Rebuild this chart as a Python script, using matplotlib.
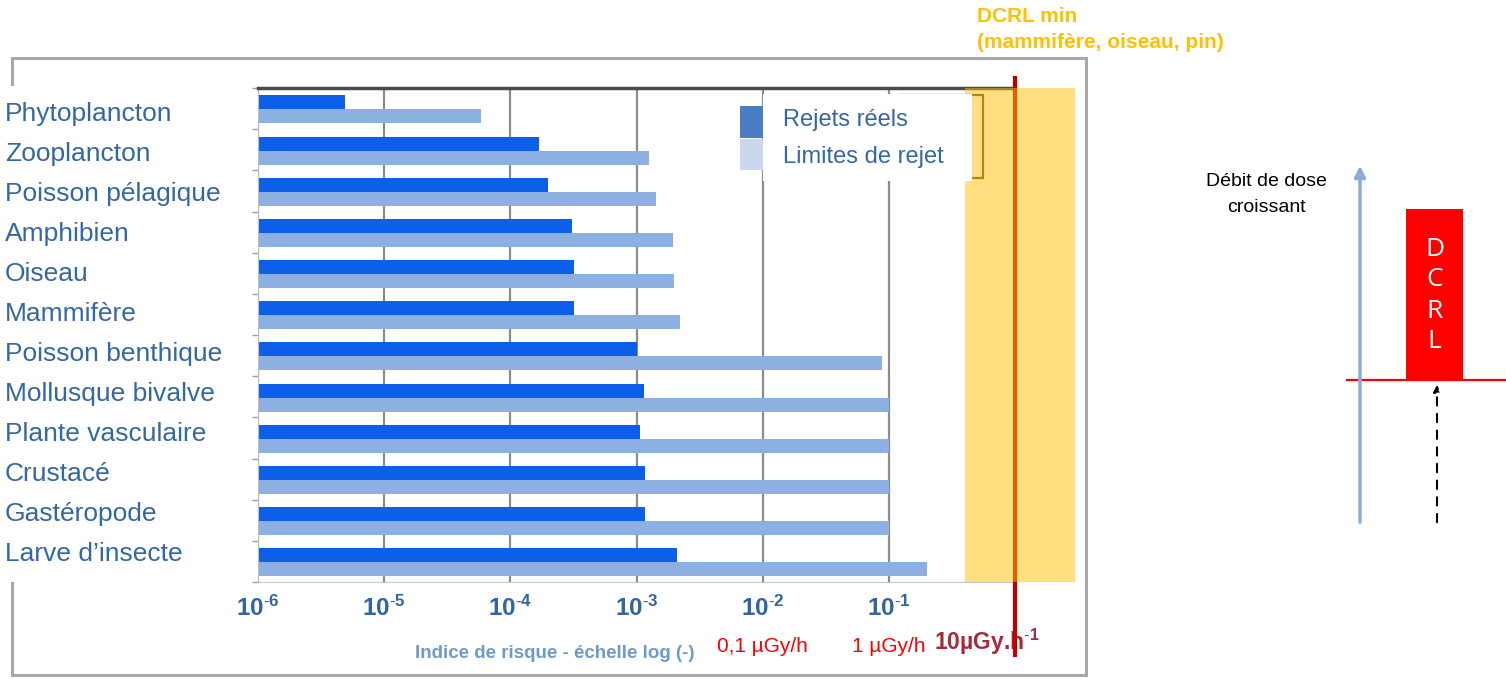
import numpy as np
import matplotlib
matplotlib.use('Agg')
import matplotlib.pyplot as plt
from matplotlib.patches import Rectangle
from matplotlib.ticker import NullLocator
from matplotlib.transforms import blended_transform_factory

plt.rcParams['font.family'] = ['Liberation Sans', 'DejaVu Sans']
plt.rcParams['mathtext.fontset'] = 'custom'
plt.rcParams['mathtext.rm'] = 'Liberation Sans'
plt.rcParams['mathtext.bf'] = 'Liberation Sans:bold'

# indices de risque par espèce (échelle log)
especes = ['Phytoplancton', 'Zooplancton', 'Poisson pélagique', 'Amphibien', 'Oiseau',
           'Mammifère', 'Poisson benthique', 'Mollusque bivalve', 'Plante vasculaire',
           'Crustacé', 'Gastéropode', 'Larve d’insecte']
rejets_reels = [4.9e-6, 1.7e-4, 2.0e-4, 3.1e-4, 3.2e-4, 3.2e-4,
                1.0e-3, 1.15e-3, 1.07e-3, 1.16e-3, 1.16e-3, 2.1e-3]
limites_rejet = [5.9e-5, 1.26e-3, 1.44e-3, 1.96e-3, 2.0e-3, 2.2e-3,
                 8.8e-2, 1.0e-1, 1.0e-1, 1.0e-1, 1.0e-1, 2.0e-1]
decades = [1e-6, 1e-5, 1e-4, 1e-3, 1e-2, 1e-1, 1e0]
decade_labels = [r'$\mathbf{10^{\text{-}6}}$', r'$\mathbf{10^{\text{-}5}}$',
                 r'$\mathbf{10^{\text{-}4}}$', r'$\mathbf{10^{\text{-}3}}$',
                 r'$\mathbf{10^{\text{-}2}}$', r'$\mathbf{10^{\text{-}1}}$', '']
debit_pos = [1e-2, 1e-1]
debit_labels = ['0,1 µGy/h', '1 µGy/h']
dcrl = 1.0            # 10 µGy/h
zone_dcrl = (0.4, 3.0)

W, H = 1506, 679
BLEU_TXT = '#3467A6'


def box(x0, y0, x1, y1):
    return [x0 / W, 1 - y1 / H, (x1 - x0) / W, (y1 - y0) / H]


def frect(x0, y0, x1, y1, **kw):
    return Rectangle((x0 / W, 1 - y1 / H), (x1 - x0) / W, (y1 - y0) / H,
                     transform=fig.transFigure, **kw)


fig = plt.figure(figsize=(W / 100, H / 100), dpi=100)

# cadre du graphique + caches blancs
fig.patches.append(frect(12, 58, 1086, 675, fill=False, ec='#A8A8A8', lw=2.2, zorder=-3))
fig.patches.append(frect(0, 86, 246, 582, fc='white', ec='none', zorder=-1))
fig.patches.append(frect(205, 584, 930, 633, fc='white', ec='none', zorder=-1))

ax = fig.add_axes(box(258, 88, 1015, 582))
ax.set_xscale('log')
ax.set_xlim(decades[0], decades[-1])
y = np.arange(len(especes))
x0 = decades[0]
ax.barh(y - 0.15, np.array(rejets_reels) - x0, left=x0, height=0.34,
        color='#0B5FE8', zorder=2)
ax.barh(y + 0.19, np.array(limites_rejet) - x0, left=x0, height=0.34,
        color='#8DB0E3', zorder=2)
ax.set_ylim(len(especes) - 0.5, -0.5)

ax.set_xticks(decades)
ax.set_xticklabels(decade_labels)
ax.xaxis.set_minor_locator(NullLocator())
ax.tick_params(axis='x', length=0, pad=10, labelsize=17.5, labelcolor='#2F66A3')
ax.set_yticks(np.arange(len(especes) + 1) - 0.5)
ax.set_yticklabels([])
ax.tick_params(axis='y', length=4, width=1, color='#A0A0A0')
ax.grid(axis='x', color='#8C8C8C', lw=1.6, zorder=1)
ax.set_axisbelow(True)
ax.spines['top'].set_color('#4A4A4A')
ax.spines['top'].set_linewidth(2.5)
ax.spines['left'].set_color('#BDBDBD')
ax.spines['bottom'].set_color('#C8C8C8')
ax.spines['right'].set_visible(False)

# ancien cadre de légende, sous la zone jaune
ax.add_patch(frect(900, 95, 983, 178, fill=False, ec='#5E5020', lw=1.6, clip_on=False, zorder=3))

# DCRL min et zone associée
ax.axvline(dcrl, ymin=-0.148, ymax=1.021, color='#C00000', lw=3, clip_on=False, zorder=4)
ax.axvspan(*zone_dcrl, color='#FFC000', alpha=0.5, lw=0, clip_on=False, zorder=5)

trans = blended_transform_factory(ax.transData, ax.transAxes)
for xp, lab in zip(debit_pos, debit_labels):
    ax.text(xp, -0.131, lab, transform=trans, ha='center', va='center',
            color='#FF0000', fontsize=15)
ax.text(0.228, -0.121, r'10µGy.h$^{\mathbf{\text{-}1}}$', transform=trans, ha='left', va='center',
        color='#A8283C', fontsize=16.5, fontweight='bold')

fig.text(555 / W, 1 - 654 / H, 'Indice de risque - échelle log (-)', ha='center', va='center',
         fontsize=13.5, fontweight='bold', color='#6D9BCB')

for i, nom in enumerate(especes):
    fig.text(5 / W, 1 - (114 + 40 * i) / H, nom, ha='left', va='center',
             fontsize=19, color=BLEU_TXT)

# légende
fig.patches.append(frect(740, 106, 763, 138, fc='#4A7EC4', ec='none', zorder=6))
fig.patches.append(frect(740, 139, 763, 170, fc='#CAD8EE', ec='none', zorder=6))
fig.patches.append(frect(763, 94, 972, 181, fc='white', ec='none', zorder=6))
fig.text(783 / W, 1 - 120 / H, 'Rejets réels', ha='left', va='center', fontsize=17,
         color=BLEU_TXT, zorder=7)
fig.text(783 / W, 1 - 157 / H, 'Limites de rejet', ha='left', va='center', fontsize=17,
         color=BLEU_TXT, zorder=7)

fig.text(977 / W, 1 - 16 / H, 'DCRL min', ha='left', va='center', fontsize=15,
         fontweight='bold', color='#FFC000')
fig.text(977 / W, 1 - 42 / H, '(mammifère, oiseau, pin)', ha='left', va='center', fontsize=15,
         fontweight='bold', color='#FFC000')

# schéma à droite
ax2 = fig.add_axes(box(1100, 0, 1506, 679))
ax2.set_xlim(1100, 1506)
ax2.set_ylim(679, 0)
ax2.axis('off')
ax2.annotate('', xy=(1360, 163), xytext=(1360, 525),
             arrowprops=dict(arrowstyle='-|>', color='#8EAADB', lw=2.5, mutation_scale=16))
ax2.text(1266, 182, 'Débit de dose', ha='center', va='center', fontsize=14, color='black')
ax2.text(1266, 207, 'croissant', ha='center', va='center', fontsize=14, color='black')
ax2.add_patch(Rectangle((1406, 209), 57, 171, fc='#FF0000', ec='none'))
ax2.plot([1347, 1506], [379.5, 379.5], color='#FF0000', lw=1.6)
for lettre, yl in zip('DCRL', [249, 280, 311, 341]):
    ax2.text(1434.5, yl, lettre, ha='center', va='center', fontsize=19, color='white',
             family=['Open Sans', 'DejaVu Sans'])
ax2.annotate('', xy=(1437, 382), xytext=(1437, 525),
             arrowprops=dict(arrowstyle='-|>', color='black', lw=1.5, linestyle=(0, (4, 4)),
                             mutation_scale=10))

fig.savefig('out.png', dpi=100, facecolor='white')
